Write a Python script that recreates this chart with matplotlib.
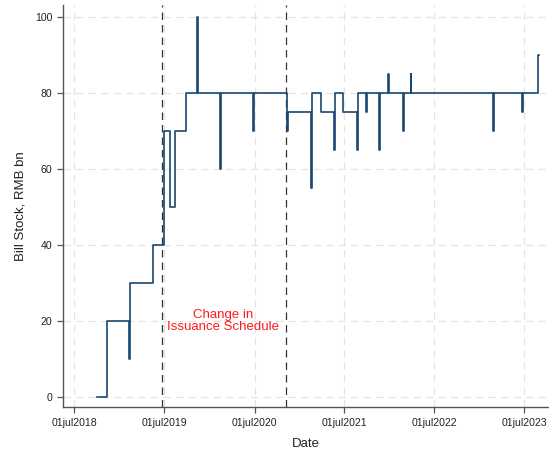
import numpy as np
import matplotlib
matplotlib.use("Agg")
import matplotlib.pyplot as plt

plt.rcParams['font.family'] = ['Liberation Sans', 'DejaVu Sans']

# Dates on which the outstanding bill stock changes, and the new level (RMB bn)
change_dates = [
    "2018-10-02", "2018-11-09", "2019-02-09", "2019-02-13", "2019-05-17",
    "2019-06-29", "2019-07-24", "2019-08-13", "2019-09-27", "2019-11-09",
    "2019-11-13", "2020-02-12", "2020-02-16", "2020-06-26", "2020-06-30",
    "2020-11-09", "2020-11-13", "2021-02-16", "2021-02-21", "2021-03-28",
    "2021-05-18", "2021-05-22", "2021-06-27", "2021-08-19", "2021-08-23",
    "2021-09-27", "2021-10-01", "2021-11-17", "2021-11-21", "2021-12-24",
    "2021-12-28", "2022-02-24", "2022-02-28", "2022-03-26", "2022-03-30",
    "2023-02-22", "2023-02-26", "2023-06-23", "2023-06-27", "2023-08-26",
    "2023-08-31",
]
stock_values = [
    0, 20, 10, 30, 40,
    70, 50, 70, 80, 100,
    80, 60, 80, 70, 80,
    70, 75, 55, 80, 75,
    65, 80, 75, 65, 80,
    75, 80, 65, 80, 85,
    80, 70, 80, 85, 80,
    70, 80, 75, 80, 90,
    90,
]

# Issuance schedule changes
policy_dates = ["2019-06-21", "2020-11-07"]

tick_dates = ["2018-07-01", "2019-07-01", "2020-07-01",
              "2021-07-01", "2022-07-01", "2023-07-01"]
tick_labels = ["01jul2018", "01jul2019", "01jul2020",
               "01jul2021", "01jul2022", "01jul2023"]
y_ticks = [0, 20, 40, 60, 80, 100]

dates = np.array(change_dates, dtype="datetime64[D]")

fig = plt.figure(figsize=(5.49, 4.49), dpi=100)
ax = fig.add_axes([0.1153, 0.0942, 0.8847, 0.894])

grid_col = "#e4e4e4"
for t in np.array(tick_dates, dtype="datetime64[D]"):
    ax.axvline(t, color=grid_col, lw=0.9, ls=(0, (6, 4)), zorder=0)
for yv in y_ticks:
    ax.axhline(yv, color=grid_col, lw=0.9, ls=(0, (6, 4)), zorder=0)

for d in np.array(policy_dates, dtype="datetime64[D]"):
    ax.axvline(d, color="#333333", lw=0.9, ls=(0, (6, 4)), zorder=1)

ax.step(dates, stock_values, where="post", color="#1a476f", lw=1.2, zorder=3)

ax.text(np.datetime64("2020-02-25"), 20.0, "Change in\nIssuance Schedule",
        color="#ff1a1a", fontsize=9.5, ha="center", va="center",
        linespacing=1.1, zorder=4)

ax.set_xlim(np.datetime64("2018-05-17"), np.datetime64("2023-10-09"))
ax.set_ylim(-2.55, 103.1)

ax.set_xticks(np.array(tick_dates, dtype="datetime64[D]"))
ax.set_xticklabels(tick_labels)
ax.set_yticks(y_ticks)

for s in ["top", "right"]:
    ax.spines[s].set_visible(False)
for s in ["left", "bottom"]:
    ax.spines[s].set_color("#555555")
    ax.spines[s].set_linewidth(1.0)

ax.tick_params(axis="both", direction="out", length=4.5, width=0.9,
               color="#555555", labelsize=7.6, labelcolor="#222222", pad=3.5)

ax.set_xlabel("Date", fontsize=9.5, color="#222222", labelpad=7)
ax.set_ylabel("Bill Stock, RMB bn", fontsize=9.5, color="#222222", labelpad=6)

fig.savefig("out.png", dpi=100)
